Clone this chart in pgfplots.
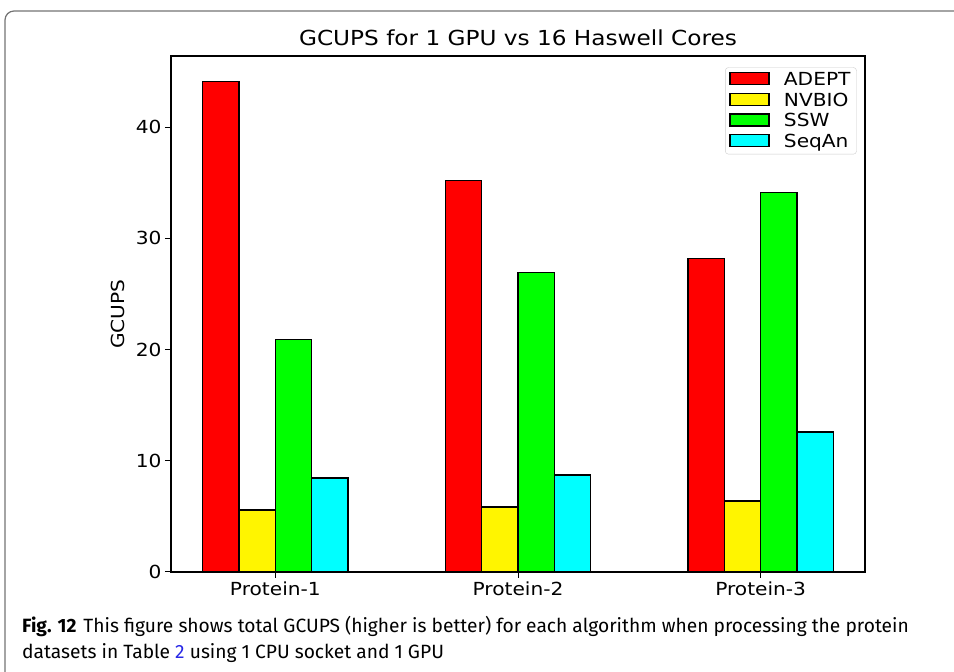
\documentclass[border=0pt]{standalone}
\usepackage{fontspec}
\setmainfont[FakeStretch=1.12]{DejaVu Sans}
\newfontfamily\capfont{Fira Sans}
\usepackage{pgfplots}
\pgfplotsset{compat=1.18}
\definecolor{capblue}{RGB}{40,40,230}
\definecolor{mred}{RGB}{255,0,0}
\definecolor{myellow}{RGB}{255,245,0}
\definecolor{mgreen}{RGB}{0,255,0}
\definecolor{mcyan}{RGB}{0,255,255}
\begin{document}
\begin{tikzpicture}
\begin{axis}[
  name=ax,
  scale only axis, width=694pt, height=516pt,
  xmin=-0.43, xmax=2.43, ymin=0, ymax=46.4,
  xtick={0,1,2}, xticklabels={Protein-1,Protein-2,Protein-3},
  ytick={0,10,20,30,40},
  tick align=outside, tick pos=left,
  major tick length=6pt,
  every tick/.style={black, line width=1pt},
  axis line style={line width=1.1pt},
  /pgf/number format/assume math mode=true,
  tick label style={font=\fontsize{18}{20}\selectfont},
  title={GCUPS for 1 GPU vs 16 Haswell Cores},
  title style={font=\fontsize{20.7}{22}\selectfont, yshift=1pt},
  ylabel={GCUPS},
  ylabel style={font=\fontsize{18}{20}\selectfont, yshift=4pt},
  legend style={at={(0.988,0.978)}, anchor=north east, draw=black!20, rounded corners=3pt,
    font=\fontsize{18}{20}\selectfont, row sep=1.8pt, inner xsep=4pt, inner ysep=3pt},
  legend image code/.code={\draw[#1, sharp corners, line width=1.2pt] (0pt,-5pt) rectangle (39pt,7pt);
    \path[draw=none, fill=none] (0pt,0pt) -- (52pt,0pt);},
  legend cell align=left,
]
\addplot[ybar, bar width=0.15, bar shift=0pt, fill=mred, draw=black, line width=1.3pt]
  coordinates {(-0.225,44.1) (0.775,35.2) (1.775,28.2)};
\addlegendentry{ADEPT}
\addplot[ybar, bar width=0.15, bar shift=0pt, fill=myellow, draw=black, line width=1.3pt]
  coordinates {(-0.075,5.57) (0.925,5.84) (1.925,6.38)};
\addlegendentry{NVBIO}
\addplot[ybar, bar width=0.15, bar shift=0pt, fill=mgreen, draw=black, line width=1.3pt]
  coordinates {(0.075,20.9) (1.075,26.9) (2.075,34.1)};
\addlegendentry{SSW}
\addplot[ybar, bar width=0.15, bar shift=0pt, fill=mcyan, draw=black, line width=1.3pt]
  coordinates {(0.225,8.45) (1.225,8.72) (2.225,12.58)};
\addlegendentry{SeqAn}
\end{axis}
\coordinate (O) at ([shift={(-171pt,-100pt)}]ax.south west);
\pgfresetboundingbox
\begin{scope}[shift={(O)}, x=1pt, y=1pt]
\useasboundingbox (0,0) rectangle (954,672);
\begin{scope}
\clip (0,0) rectangle (954,672);
\draw[black!55, line width=1.2pt, rounded corners=9pt] (5,-20) -- (5,661) -- (990,661);
\end{scope}
\node[anchor=base west, inner sep=0pt, font=\capfont\fontsize{19.2}{21}\selectfont] at (22,39)
  {\textbf{Fig. 12}\hspace{7pt}This figure shows total GCUPS (higher is better) for each algorithm when processing the protein};
\node[anchor=base west, inner sep=0pt, font=\capfont\fontsize{19.2}{21}\selectfont] at (22,13)
  {datasets in Table \textcolor{capblue}{2} using 1 CPU socket and 1 GPU};
\end{scope}
\end{tikzpicture}
\end{document}
